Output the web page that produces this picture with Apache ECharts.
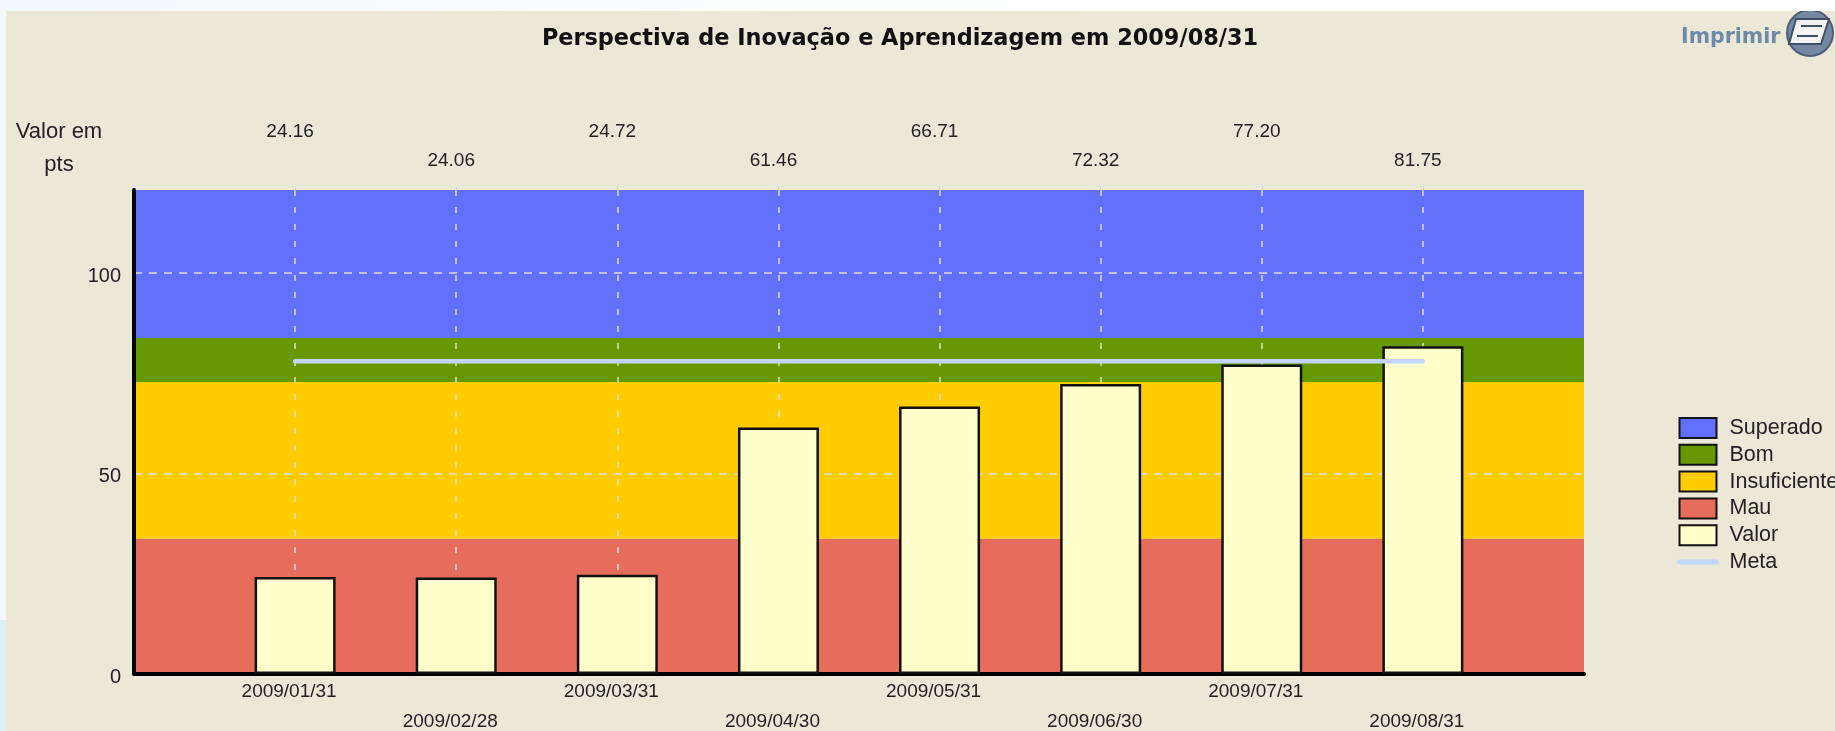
<!DOCTYPE html>
<html>
<head>
<meta charset="utf-8">
<title>Perspectiva de Inovação e Aprendizagem</title>
<script src="https://cdn.jsdelivr.net/npm/echarts@6/dist/echarts.min.js"></script>
<style>
    html, body { margin: 0; height: 100%; overflow: hidden; }
    body { background: linear-gradient(90deg, #f2f9fd, #ffffff 60%); }
    #bottomLeft { position: absolute; left: 0; top: 620px; width: 6px; height: 111px; background: #dfeff4; }
    #main { position: absolute; left: 6px; top: 11px; width: 1829px; height: 720px; background: #ebe8d8; }
</style>
</head>
<body>
<div id="bottomLeft"></div>
<div id="main"></div>
<script>
// first and last slot are empty so the bands run past the bars
const dates = ['', '2009/01/31', '2009/02/28', '2009/03/31', '2009/04/30', '2009/05/31', '2009/06/30', '2009/07/31', '2009/08/31', '']
const valor = [null, 24.16, 24.06, 24.72, 61.46, 66.71, 72.32, 77.20, 81.75, null]
const meta = [null, 78, 78, 78, 78, 78, 78, 78, 78, null]
// height of each band, stacked from the bottom
const mau = [33.7, 33.7, 33.7, 33.7, 33.7, 33.7, 33.7, 33.7, 33.7, 33.7]
const insuficiente = [39.1, 39.1, 39.1, 39.1, 39.1, 39.1, 39.1, 39.1, 39.1, 39.1]
const bom = [11, 11, 11, 11, 11, 11, 11, 11, 11, 11]
const superado = [36.9, 36.9, 36.9, 36.9, 36.9, 36.9, 36.9, 36.9, 36.9, 36.9]

const font = '"Liberation Sans", Arial, sans-serif'
const textColor = '#222'
const notEnd = (i) => i > 0 && i < dates.length - 1

function band(name, data, color) {
    return {
        name: name,
        type: 'line',
        stack: 'bands',
        data: data,
        z: 1,
        silent: true,
        symbol: 'none',
        lineStyle: { width: 0 },
        itemStyle: { color: color },
        areaStyle: { color: color, opacity: 1 }
    }
}

function legendBox(name, color) {
    return { name: name, icon: 'rect', itemStyle: { color: color, borderColor: '#111', borderWidth: 2 } }
}

const myChart = echarts.init(document.getElementById('main'))
myChart.setOption({
    animation: false,
    title: {
        text: 'Perspectiva de Inovação e Aprendizagem em 2009/08/31',
        left: 889,
        top: 12,
        textAlign: 'center',
        textStyle: { fontFamily: '"DejaVu Sans", sans-serif', fontWeight: 'bold', fontSize: 22.4, color: '#111' }
    },
    legend: {
        orient: 'vertical',
        left: 1666,
        top: 401,
        itemWidth: 37,
        itemHeight: 20,
        itemGap: 4.8,
        textStyle: { fontFamily: font, fontSize: 21.5, lineHeight: 20, color: textColor, padding: [0, 0, 0, 8] },
        data: [
            legendBox('Superado', '#616ff9'),
            legendBox('Bom', '#669900'),
            legendBox('Insuficiente', '#ffcc00'),
            legendBox('Mau', '#e66c5c'),
            legendBox('Valor', '#ffffcc'),
            { name: 'Meta', itemStyle: { opacity: 0 }, lineStyle: { color: '#c3d6ff', width: 5, cap: 'round' } }
        ]
    },
    grid: { left: 128, right: 251, top: 179, bottom: 57, outerBoundsMode: 'none' },
    xAxis: [{
        type: 'category',
        data: dates,
        boundaryGap: false,
        z: 2,
        axisLine: { lineStyle: { color: '#000', width: 4 } },
        axisTick: { show: false },
        axisLabel: {
            interval: 0,
            margin: 3,
            color: textColor,
            fontFamily: font,
            fontSize: 19,
            lineHeight: 30,
            padding: [0, 12, 0, 0],
            formatter: (v, i) => (i % 2 === 0 ? '\n' + v : v)
        },
        splitLine: {
            show: true,
            interval: notEnd,
            lineStyle: { color: '#ddd', type: [6, 11], width: 1.5 }
        }
    }, {
        type: 'category',
        position: 'top',
        data: dates,
        boundaryGap: false,
        axisLine: { show: false },
        axisTick: { show: true, length: 3, interval: notEnd, lineStyle: { color: '#ccc' } },
        axisLabel: {
            interval: 0,
            margin: 15,
            color: textColor,
            fontFamily: font,
            fontSize: 19,
            lineHeight: 29,
            padding: [0, 10, 0, 0],
            formatter: (v, i) => {
                if (!notEnd(i)) return ''
                const s = valor[i].toFixed(2)
                return i % 2 === 1 ? s + '\n ' : s
            }
        }
    }],
    yAxis: {
        type: 'value',
        min: 0,
        max: 120.7,
        interval: 50,
        z: 2,
        name: 'Valor em\npts',
        nameLocation: 'end',
        nameGap: 9,
        nameTextStyle: {
            fontFamily: font,
            fontSize: 22,
            lineHeight: 33,
            color: textColor,
            align: 'center',
            padding: [0, 150, 0, 0]
        },
        axisLine: { show: true, lineStyle: { color: '#000', width: 4 } },
        axisTick: { show: false },
        // labels sit a little below their gridline
        axisLabel: { showMaxLabel: false, margin: 13, color: textColor, fontFamily: font, fontSize: 20, verticalAlign: 'top', lineHeight: 6 },
        splitLine: { show: true, showMaxLine: false, lineStyle: { color: '#ddd', type: [8, 7], width: 1.5 } }
    },
    series: [
        band('Mau', mau, '#e66c5c'),
        band('Insuficiente', insuficiente, '#ffcc00'),
        band('Bom', bom, '#669900'),
        band('Superado', superado, '#616ff9'),
        {
            name: 'Valor',
            type: 'bar',
            data: valor,
            barWidth: 81,
            z: 3,
            itemStyle: { color: '#ffffcc', borderColor: '#111', borderWidth: 2.5 }
        },
        {
            name: 'Meta',
            type: 'line',
            data: meta,
            z: 4,
            symbol: 'none',
            itemStyle: { color: '#c3d6ff' },
            lineStyle: { color: '#c3d6ff', width: 4.5, cap: 'round' }
        }
    ],
    graphic: [
        {
            type: 'text',
            left: 1675,
            top: 16,
            style: { text: 'Imprimir', fill: '#6f8aa8', font: 'bold 20.5px "DejaVu Sans", sans-serif' }
        },
        {
            type: 'circle',
            shape: { cx: 1804, cy: 22, r: 23 },
            style: { fill: '#7488a3', stroke: '#4d5f78', lineWidth: 2 }
        },
        {
            type: 'polygon',
            shape: { points: [[1790, 8], [1823, 8], [1815, 33], [1783, 33]] },
            style: { fill: '#f4f4f4', stroke: '#3f4f66', lineWidth: 2 }
        },
        {
            type: 'line',
            shape: { x1: 1795, y1: 15, x2: 1816, y2: 15 },
            style: { stroke: '#3f4f66', lineWidth: 2 }
        },
        {
            type: 'line',
            shape: { x1: 1791, y1: 25, x2: 1812, y2: 25 },
            style: { stroke: '#3f4f66', lineWidth: 2 }
        }
    ]
})
</script>
</body>
</html>
